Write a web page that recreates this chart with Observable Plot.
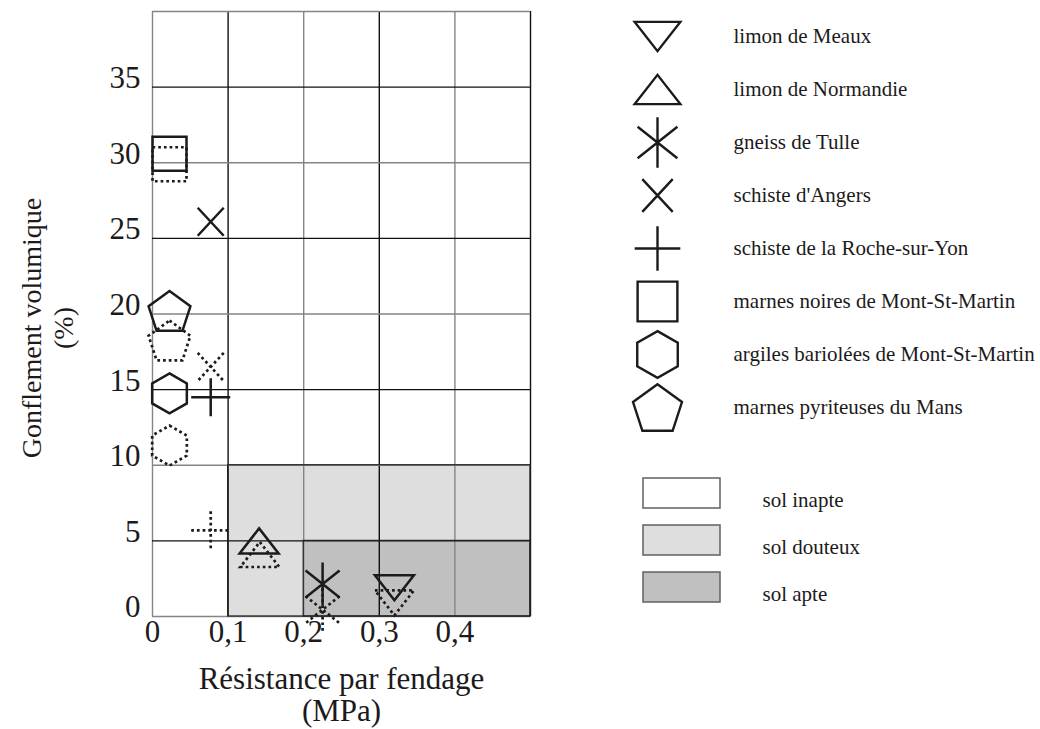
<!DOCTYPE html>
<html>
<head>
<meta charset="utf-8">
<script src="https://cdn.jsdelivr.net/npm/d3@7"></script>
<script src="https://cdn.jsdelivr.net/npm/@observablehq/plot@0.6"></script>
<style>
  html, body { margin: 0; padding: 0; background: #fff; }
  #chart { position: relative; width: 1040px; height: 729px; overflow: hidden; font-family: "Liberation Serif", "Times New Roman", serif; }
  #chart svg { position: absolute; }
</style>
</head>
<body>
<div id="chart"></div>
<script>
// ---------- data ----------
const materials = [
  "limon de Meaux",
  "limon de Normandie",
  "gneiss de Tulle",
  "schiste d'Angers",
  "schiste de la Roche-sur-Yon",
  "marnes noires de Mont-St-Martin",
  "argiles bariolées de Mont-St-Martin",
  "marnes pyriteuses du Mans"
];
const symbolKinds = ["triangleDown", "triangleUp", "asterisk", "cross", "plus", "square", "hexagon", "pentagon"];
// solid-outline markers
const resistanceSolid = [0.320, 0.141, 0.225, 0.077, 0.077, 0.0225, 0.0225, 0.0225];
const gonflementSolid = [1.9, 5.0, 2.15, 26.1, 14.5, 30.6, 14.75, 20.2];
// dotted-outline markers
const resistanceDotted = [0.320, 0.142, 0.225, 0.077, 0.077, 0.0225, 0.0225, 0.0225];
const gonflementDotted = [0.9, 4.1, 0.45, 16.5, 5.7, 29.9, 11.3, 18.25];

const zoneNames = ["sol inapte", "sol douteux", "sol apte"];
const zoneColors = ["#ffffff", "#dedede", "#c0c0c0"];
const zoneX1 = [0, 0.1, 0.2];
const zoneX2 = [0.5, 0.5, 0.5];
const zoneY1 = [0, 0, 0];
const zoneY2 = [40, 10, 5];

const xTicks = [0, 0.1, 0.2, 0.3, 0.4];
const xTickLabels = ["0", "0,1", "0,2", "0,3", "0,4"];
const yTicks = [0, 5, 10, 15, 20, 25, 30, 35];
const yTickLabels = ["0", "5", "10", "15", "20", "25", "30", "35"];
const xGrid = [0, 0.1, 0.2, 0.3, 0.4, 0.5];
const yGrid = [0, 5, 10, 15, 20, 25, 30, 35, 40];

const xTitle = "Résistance par fendage\n(MPa)";
const yTitle = "Gonflement volumique\n(%)";

// ---------- custom marker shapes ----------
function makeSymbol(kind) {
  return {
    draw(ctx, size) {
      const s = Math.sqrt(size / Math.PI) / 10;
      const P = (pts, close) => {
        pts.forEach(([x, y], i) => i ? ctx.lineTo(x * s, y * s) : ctx.moveTo(x * s, y * s));
        if (close) ctx.closePath();
      };
      switch (kind) {
        case "square": P([[-17, -17], [17, -17], [17, 17], [-17, 17]], true); break;
        case "triangleUp": P([[0, -12.5], [19.5, 12.5], [-19.5, 12.5]], true); break;
        case "triangleDown": P([[-19.5, -12.5], [19.5, -12.5], [0, 12.5]], true); break;
        case "asterisk":
          P([[0, -21.5], [0, 21.5]]); P([[-17, -13.5], [17, 13.5]]); P([[17, -13.5], [-17, 13.5]]); break;
        case "cross": P([[-13, -14], [13, 14]]); P([[13, -14], [-13, 14]]); break;
        case "plus": P([[-19.5, 0], [19.5, 0]]); P([[0, -19], [0, 19]]); break;
        case "hexagon": {
          const R = 20, pts = [];
          for (let k = 0; k < 6; k++) { const a = (-90 + 60 * k) * Math.PI / 180; pts.push([R * Math.cos(a), R * Math.sin(a)]); }
          P(pts, true); break;
        }
        case "pentagon": {
          const R = 22, off = (R - R * Math.cos(Math.PI / 5)) / 2, pts = [];
          for (let k = 0; k < 5; k++) { const a = (-90 + 72 * k) * Math.PI / 180; pts.push([R * Math.cos(a), R * Math.sin(a) + off]); }
          P(pts, true); break;
        }
      }
    }
  };
}
const symbolObjects = symbolKinds.map(makeSymbol);

const ink = "#1c1a1a";
const font = "Liberation Serif, Times New Roman, serif";
const idx = d3.range(materials.length);
const zIdx = d3.range(zoneNames.length);

// ---------- main plot ----------
const markerMarks = [];
for (const i of idx) {
  markerMarks.push(Plot.dot([i], {
    x: j => resistanceDotted[j], y: j => gonflementDotted[j],
    symbol: symbolObjects[i], r: 10, fill: "none", stroke: ink,
    strokeWidth: 2.7, strokeDasharray: "2.7,3"
  }));
  markerMarks.push(Plot.dot([i], {
    x: j => resistanceSolid[j], y: j => gonflementSolid[j],
    symbol: symbolObjects[i], r: 10, fill: "none", stroke: ink,
    strokeWidth: 2.5
  }));
}

const main = Plot.plot({
  width: 560, height: 729,
  marginLeft: 152, marginRight: 30, marginTop: 11, marginBottom: 113,
  x: {domain: [0, 0.5], axis: null},
  y: {domain: [0, 40], axis: null},
  color: {type: "identity"},
  style: {fontFamily: font, background: "transparent", overflow: "visible"},
  marks: [
    Plot.rect(zIdx, {x1: i => zoneX1[i], x2: i => zoneX2[i], y1: i => zoneY1[i], y2: i => zoneY2[i], fill: i => zoneColors[i]}),
    Plot.ruleX(xGrid, {x: d => d, stroke: d => (Math.round(d * 10) % 2 === 1 ? "#111" : "#858585"), strokeWidth: 1.4}),
    Plot.ruleY(yGrid, {y: d => d, stroke: d => (d % 10 === 5 ? "#111" : "#858585"), strokeWidth: 1.4}),
    Plot.rect(zIdx.slice(1), {x1: i => zoneX1[i], x2: i => zoneX2[i], y1: i => zoneY1[i], y2: i => zoneY2[i], fill: "none", stroke: "#222", strokeWidth: 1.2}),
    ...markerMarks,
    Plot.text(yTicks, {y: d => d, text: (d, i) => yTickLabels[i], frameAnchor: "left", textAnchor: "end", dx: -12, dy: -9, fontSize: 31, fill: ink}),
    Plot.text(xTicks, {x: d => d, text: (d, i) => xTickLabels[i], frameAnchor: "bottom", textAnchor: "middle", lineAnchor: "middle", dy: 16, fontSize: 31, fill: ink}),
    Plot.text([xTitle], {text: d => d, frameAnchor: "bottom", textAnchor: "middle", lineAnchor: "middle", dy: 78, fontSize: 31, lineHeight: 1.03, fill: ink}),
    Plot.text([yTitle], {text: d => d, frameAnchor: "left", textAnchor: "middle", rotate: -90, lineAnchor: "middle", dx: -106, dy: 14, fontSize: 28, lineHeight: 1.14, fill: ink})
  ]
});
main.style.left = "0px"; main.style.top = "0px";

// ---------- material legend ----------
const legendMarks = [];
for (const i of idx) {
  legendMarks.push(Plot.dot([materials[i]], {
    y: d => d, frameAnchor: "left", dx: 97,
    symbol: symbolObjects[i], r: 11.7, fill: "none", stroke: ink, strokeWidth: 2.4
  }));
}
const legend1 = Plot.plot({
  width: 480, height: 440,
  marginLeft: 0, marginRight: 0, marginTop: 0, marginBottom: 0,
  y: {type: "point", domain: materials, range: [33, 410], padding: 0, axis: null},
  style: {fontFamily: font, background: "transparent", overflow: "visible"},
  marks: [
    ...legendMarks,
    Plot.text(materials, {y: d => d, text: d => d, frameAnchor: "left", dx: 173, textAnchor: "start", fontSize: 21, fill: ink})
  ]
});
legend1.style.left = "560px"; legend1.style.top = "0px";

// ---------- zone legend ----------
const legend2 = Plot.plot({
  width: 480, height: 200,
  marginLeft: 0, marginRight: 0, marginTop: 0, marginBottom: 0,
  x: {type: "band", domain: ["swatch"], range: [83, 160], padding: 0, axis: null},
  y: {type: "band", domain: zoneNames, range: [37, 163], paddingInner: 0.354, paddingOuter: 0, axis: null},
  color: {type: "identity"},
  style: {fontFamily: font, background: "transparent", overflow: "visible"},
  marks: [
    Plot.cell(zIdx, {x: () => "swatch", y: i => zoneNames[i], fill: i => zoneColors[i], stroke: "#606060", strokeWidth: 1.5, inset: 0}),
    Plot.text(zoneNames, {y: d => d, text: d => d, frameAnchor: "left", dx: 202, dy: 7, textAnchor: "start", fontSize: 21, fill: ink})
  ]
});
legend2.style.left = "560px"; legend2.style.top = "440px";

const chart = document.getElementById("chart");
chart.append(main, legend1, legend2);
</script>
</body>
</html>
